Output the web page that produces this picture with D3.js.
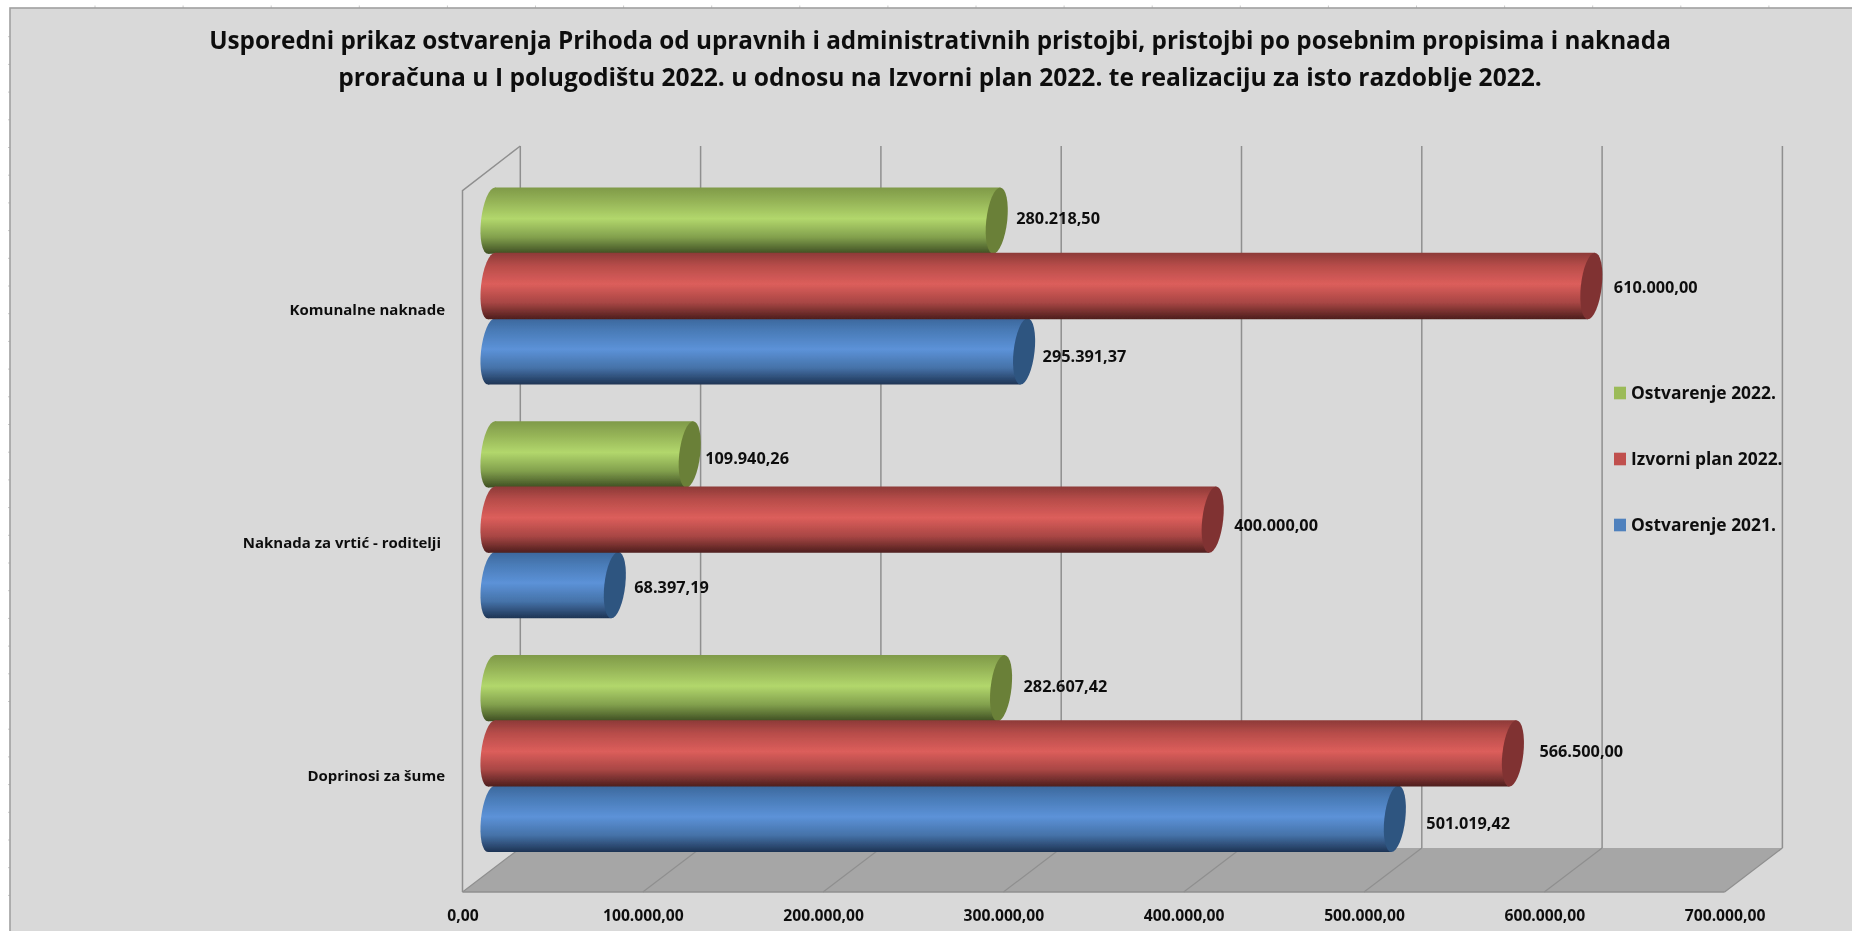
<!DOCTYPE html>
<html>
<head>
<meta charset="utf-8">
<script src="https://cdn.jsdelivr.net/npm/d3@7"></script>
<style>
  html, body { margin: 0; padding: 0; background: #fff; overflow: hidden; }
  svg { display: block; }
  text { font-family: "Open Sans", sans-serif; font-weight: 700; fill: #111; }
</style>
</head>
<body>
<svg id="chart" width="1852" height="931"></svg>
<script>
// chart data
var titleLines = [
  'Usporedni prikaz ostvarenja Prihoda od upravnih i administrativnih pristojbi, pristojbi po posebnim propisima i naknada',
  'proračuna u I polugodištu 2022. u odnosu na Izvorni plan 2022. te realizaciju za isto razdoblje 2022.'
];
var categories = ['Komunalne naknade', 'Naknada za vrtić - roditelji', 'Doprinosi za šume'];
var seriesNames = ['Ostvarenje 2022.', 'Izvorni plan 2022.', 'Ostvarenje 2021.'];
var ostvarenje2022 = [280218.50, 109940.26, 282607.42];
var izvorniPlan2022 = [610000.00, 400000.00, 566500.00];
var ostvarenje2021 = [295391.37, 68397.19, 501019.42];
var axisTicks = [0, 100000, 200000, 300000, 400000, 500000, 600000, 700000];

var seriesValues = [ostvarenje2022, izvorniPlan2022, ostvarenje2021];

// colours: [top, upper, light, lower, bottom, cap, legend]
var palettes = [
  ['#7f9a49', '#94b256', '#b2d76c', '#82a04d', '#3e4e22', '#6b8038', '#9bbb59'],
  ['#8d3a38', '#b84d4a', '#dc5e5b', '#a84644', '#4d1e1d', '#803333', '#c0504d'],
  ['#3c679c', '#4a7cb8', '#5c92d8', '#4572a8', '#1e3454', '#2f5480', '#4f81bd']
];

// label nudges from the bar tip, per category then per series [dx, dy]
var labelNudge = [
  [[9, -2], [12, 1], [8, 5]],
  [[5, 4], [11, 6], [9, 2]],
  [[12, -2], [16, -2], [21, 5]]
];
var categoryLabelY = [310, 543, 776];
var categoryLabelX = [445, 441, 445];
var titleSizes = [24.3, 24.6];

var root = d3.select('#chart');
var numFmt = d3.formatLocale({ decimal: ',', thousands: '.', grouping: [3], currency: ['', ''] }).format(',.2f');

var frontX = 462.5, backX = 520.3, barX = 491.5;
var wallTop = 146, backFloor = 848, frontFloor = 892, frontTop = 190.7;
var capRx = 10.5;

var x = d3.scaleLinear().domain([0, 700000]).range([0, 1262.1]);
var yCat = d3.scaleBand().domain(categories).range([169.15, 870.25]).paddingInner(0.1613).paddingOuter(0.08065);
var ySer = d3.scaleBand().domain(seriesNames).range([0, yCat.bandwidth()]);

// gradients
var defs = root.append('defs');
palettes.forEach(function(p, i) {
  var g = defs.append('linearGradient').attr('id', 'cyl' + i)
    .attr('x1', 0).attr('y1', 0).attr('x2', 0).attr('y2', 1);
  [0, 0.2, 0.47, 0.75, 1].forEach(function(o, j) {
    g.append('stop').attr('offset', o).attr('stop-color', p[j]);
  });
});
// the picture is a soft screenshot
defs.append('filter').attr('id', 'soft').attr('filterUnits', 'userSpaceOnUse')
  .attr('x', 0).attr('y', 0).attr('width', 1852).attr('height', 931)
  .append('feGaussianBlur').attr('stdDeviation', 0.45);

var svg = root.append('g').attr('filter', 'url(#soft)');

// white page behind the chart, needed so the blur has something to work on
svg.append('rect').attr('width', 1852).attr('height', 931).attr('fill', '#fff');

// little sheet ticks behind the frame
d3.range(20).forEach(function(i) {
  svg.append('line').attr('x1', 95 + i * 88.1).attr('x2', 95 + i * 88.1).attr('y1', 5.5).attr('y2', 8)
    .attr('stroke', '#ccc');
});
d3.range(32).forEach(function(i) {
  svg.append('line').attr('x1', 8).attr('x2', 10).attr('y1', 36.7 + i * 27.7).attr('y2', 36.7 + i * 27.7)
    .attr('stroke', '#ccc');
});

// chart area
svg.append('rect').attr('x', 10).attr('y', 8).attr('width', 1900).attr('height', 1000)
  .attr('fill', '#d9d9d9').attr('stroke', '#a0a0a0').attr('stroke-width', 1.6);

// title
svg.selectAll('.title').data(titleLines).enter().append('text')
  .attr('class', 'title')
  .attr('x', 940).attr('y', function(d, i) { return 49 + i * 37; })
  .attr('text-anchor', 'middle')
  .style('font-size', function(d, i) { return titleSizes[i] + 'px'; })
  .text(function(d) { return d; });

var gridColor = '#8f8f8f';

// floor
svg.append('polygon')
  .attr('points', [
    [frontX + x(0), frontFloor], [frontX + x(700000), frontFloor],
    [backX + x(700000), backFloor], [backX + x(0), backFloor]
  ].join(' '))
  .attr('fill', '#a6a6a6');
svg.append('line').attr('x1', frontX).attr('x2', frontX + x(700000))
  .attr('y1', frontFloor).attr('y2', frontFloor).attr('stroke', gridColor).attr('stroke-width', 1.5);

// back wall gridlines and floor lines
var grid = svg.append('g').selectAll('g').data(axisTicks).enter().append('g');
grid.append('line')
  .attr('x1', function(d) { return backX + x(d); }).attr('x2', function(d) { return backX + x(d); })
  .attr('y1', wallTop).attr('y2', backFloor)
  .attr('stroke', gridColor).attr('stroke-width', 1.5);
grid.append('line')
  .attr('x1', function(d) { return backX + x(d); }).attr('x2', function(d) { return frontX + x(d); })
  .attr('y1', backFloor).attr('y2', frontFloor)
  .attr('stroke', gridColor).attr('stroke-width', 1.2);

// left wall edge
svg.append('polyline')
  .attr('points', [[backX, wallTop], [frontX, frontTop], [frontX, frontFloor]].join(' '))
  .attr('fill', 'none').attr('stroke', gridColor).attr('stroke-width', 1.5);

// cylinders, red drawn last because it sits on top of its neighbours
var barGroups = [];
categories.forEach(function(c, ci) {
  seriesNames.forEach(function(s, si) {
    barGroups.push({ cat: c, ci: ci, name: s, si: si, value: seriesValues[si][ci] });
  });
});
var drawOrder = [2, 0, 1];
barGroups.sort(function(a, b) { return drawOrder.indexOf(a.si) - drawOrder.indexOf(b.si); });

var barHeight = ySer.bandwidth() + 1;
var bars = svg.append('g').selectAll('g').data(barGroups).enter().append('g')
  .attr('transform', function(d) {
    var cy = yCat(d.cat) + ySer(d.name) + ySer.bandwidth() / 2;
    return 'translate(' + barX + ',' + cy + ') skewX(-6)';
  });
bars.append('ellipse')
  .attr('cx', 0).attr('cy', 0).attr('rx', capRx).attr('ry', barHeight / 2)
  .attr('fill', function(d) { return 'url(#cyl' + d.si + ')'; });
bars.append('rect')
  .attr('x', 0).attr('y', -barHeight / 2)
  .attr('width', function(d) { return x(d.value); }).attr('height', barHeight)
  .attr('fill', function(d) { return 'url(#cyl' + d.si + ')'; });
bars.append('ellipse')
  .attr('cx', function(d) { return x(d.value); }).attr('cy', 0)
  .attr('rx', capRx).attr('ry', barHeight / 2)
  .attr('fill', function(d) { return palettes[d.si][5]; });

// value labels
svg.append('g').selectAll('text').data(barGroups).enter().append('text')
  .attr('x', function(d) { return barX + x(d.value) + capRx + labelNudge[d.ci][d.si][0]; })
  .attr('y', function(d) {
    return yCat(d.cat) + ySer(d.name) + ySer.bandwidth() / 2 + labelNudge[d.ci][d.si][1];
  })
  .attr('dy', '0.35em')
  .style('font-size', '16.3px')
  .text(function(d) { return numFmt(d.value); });

// category labels
svg.append('g').selectAll('text').data(categories).enter().append('text')
  .attr('x', function(d, i) { return categoryLabelX[i]; })
  .attr('y', function(d, i) { return categoryLabelY[i]; })
  .attr('dy', '0.35em').attr('text-anchor', 'end')
  .style('font-size', '15px')
  .text(function(d) { return d; });

// x axis labels
var axis = d3.axisBottom(x).tickValues(axisTicks).tickSize(0).tickPadding(0).tickFormat(numFmt);
var axisG = svg.append('g').attr('transform', 'translate(' + frontX + ',' + frontFloor + ')').call(axis);
axisG.select('.domain').remove();
axisG.selectAll('text').attr('y', 24).attr('dy', '0.35em')
  .style('font-size', '15.7px').style('font-family', '"Open Sans", sans-serif').attr('fill', '#111');

// legend
var legendY = d3.scalePoint().domain(seriesNames).range([393, 525]);
var legend = svg.append('g').selectAll('g').data(seriesNames).enter().append('g')
  .attr('transform', function(d) { return 'translate(1614,' + legendY(d) + ')'; });
legend.append('rect').attr('x', 0).attr('y', -6.3).attr('width', 12).attr('height', 12.6)
  .attr('fill', function(d, i) { return palettes[i][6]; });
legend.append('text').attr('x', 17).attr('y', 0).attr('dy', '0.35em')
  .style('font-size', '17.4px')
  .text(function(d) { return d; });
</script>
</body>
</html>
